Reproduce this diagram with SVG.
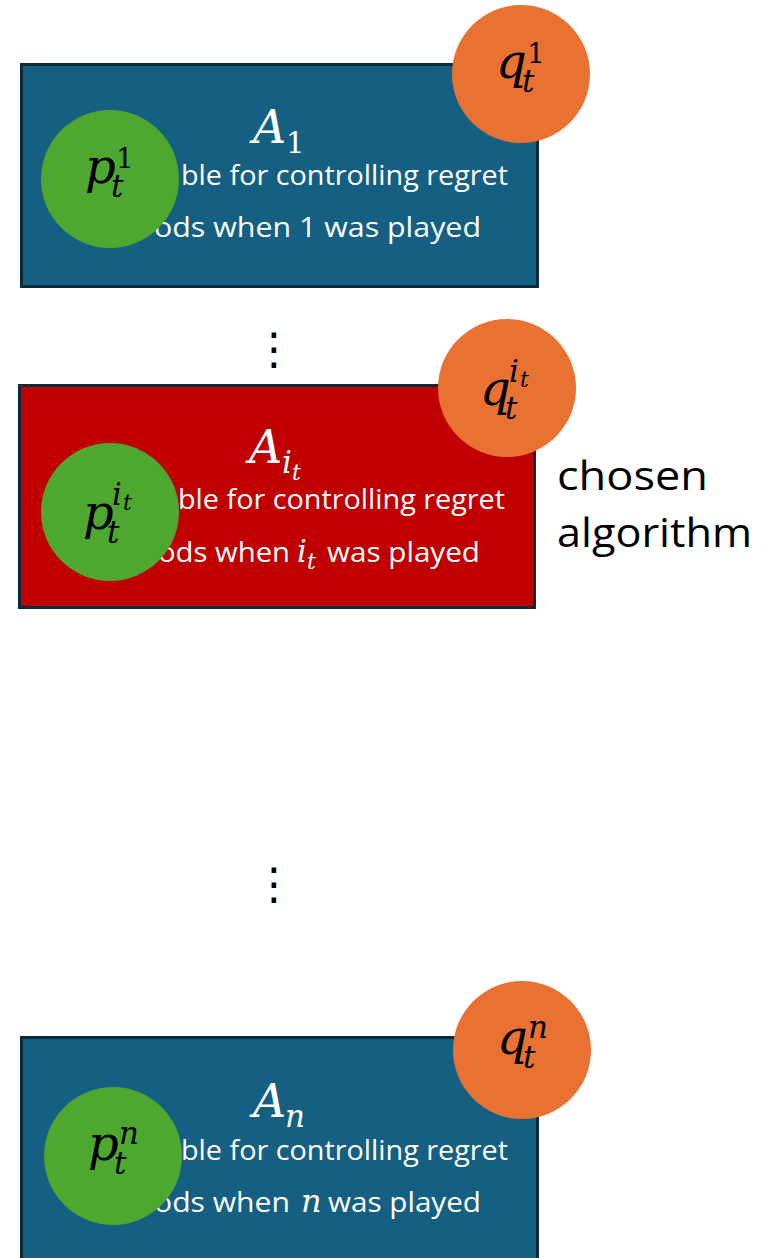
<svg xmlns="http://www.w3.org/2000/svg" width="774" height="1258" viewBox="0 0 774 1258">
<style>
.box{fill:#156082;stroke:#0c2a3a;stroke-width:3}
.red{fill:#c00000;stroke:#0c2a3a;stroke-width:3}
.q{fill:#e97132}
.p{fill:#4ea72e}
.m{font-family:"DejaVu Serif","Liberation Serif",serif;font-style:italic;fill:#000}
.up{font-style:normal}
.w{fill:#fff}
.t{font-family:"Open Sans","Liberation Sans",sans-serif;font-size:28px;fill:#fff}
.k{font-family:"Open Sans","Liberation Sans",sans-serif;font-size:41px;fill:#000}
.dots{font-family:"DejaVu Sans",sans-serif;font-size:44px;fill:#000}
</style>
<rect width="774" height="1258" fill="#fff"/>

<g id="node-A1">
<rect class="box" x="21.5" y="64.5" width="516" height="222"/>
<text class="m w" font-size="46"><tspan x="253" y="143">A</tspan><tspan class="up" x="286" y="153" font-size="29">1</tspan></text>
<text class="t" x="181" y="185" textLength="327" lengthAdjust="spacingAndGlyphs">ble for controlling regret</text>
<text class="t" x="154" y="237" textLength="327" lengthAdjust="spacingAndGlyphs">ods when 1 was played</text>
</g>
<g id="node-p1">
<circle class="p" cx="110" cy="179" r="69"/>
<text class="m" font-size="48"><tspan x="85" y="183">p</tspan><tspan x="111" y="197" font-size="31">t</tspan><tspan class="up" x="116" y="168" font-size="28">1</tspan></text>
</g>
<g id="node-q1">
<circle class="q" cx="521" cy="74" r="69"/>
<text class="m" font-size="48"><tspan x="496" y="78">q</tspan><tspan x="522" y="92" font-size="31">t</tspan><tspan class="up" x="527" y="63" font-size="28">1</tspan></text>
</g>

<text id="dots1" class="dots" x="274" y="364" text-anchor="middle">⋮</text>

<g id="node-Ait">
<rect class="red" x="19.5" y="385.5" width="515" height="222"/>
<text class="m w" font-size="46"><tspan x="249" y="463">A</tspan><tspan x="282" y="473" font-size="31">i</tspan><tspan x="292" y="480" font-size="22">t</tspan></text>
<text class="t" x="178" y="509" textLength="327" lengthAdjust="spacingAndGlyphs">ble for controlling regret</text>
<text class="t" x="158" y="562" textLength="132" lengthAdjust="spacingAndGlyphs">ods when</text>
<text class="m w" font-size="31"><tspan x="297" y="562">i</tspan><tspan x="307" y="569" font-size="22">t</tspan></text>
<text class="t" x="327" y="562" textLength="153" lengthAdjust="spacingAndGlyphs">was played</text>
</g>
<g id="node-pit">
<circle class="p" cx="110" cy="512" r="69"/>
<text class="m" font-size="48"><tspan x="83" y="529">p</tspan><tspan x="107" y="543" font-size="31">t</tspan><tspan x="112" y="505" font-size="31">i</tspan><tspan x="123" y="510" font-size="22">t</tspan></text>
</g>
<g id="node-qit">
<circle class="q" cx="507" cy="388" r="69"/>
<text class="m" font-size="48"><tspan x="480" y="405">q</tspan><tspan x="505" y="419" font-size="31">t</tspan><tspan x="509" y="382" font-size="31">i</tspan><tspan x="520" y="387" font-size="22">t</tspan></text>
</g>
<g id="label-chosen">
<text class="k" x="557" y="490" textLength="151" lengthAdjust="spacingAndGlyphs">chosen</text>
<text class="k" x="557" y="547" textLength="195" lengthAdjust="spacingAndGlyphs">algorithm</text>
</g>

<text id="dots2" class="dots" x="274" y="899" text-anchor="middle">⋮</text>

<g id="node-An">
<rect class="box" x="21.5" y="1037.5" width="516" height="240"/>
<text class="m w" font-size="46"><tspan x="253" y="1117">A</tspan><tspan x="285" y="1127" font-size="31">n</tspan></text>
<text class="t" x="181" y="1160" textLength="327" lengthAdjust="spacingAndGlyphs">ble for controlling regret</text>
<text class="t" x="154" y="1212" textLength="136" lengthAdjust="spacingAndGlyphs">ods when</text>
<text class="m w" x="301" y="1212" font-size="32">n</text>
<text class="t" x="328" y="1212" textLength="153" lengthAdjust="spacingAndGlyphs">was played</text>
</g>
<g id="node-pn">
<circle class="p" cx="113" cy="1156" r="69"/>
<text class="m" font-size="48"><tspan x="88" y="1160">p</tspan><tspan x="114" y="1174" font-size="31">t</tspan><tspan x="119" y="1144" font-size="31">n</tspan></text>
</g>
<g id="node-qn">
<circle class="q" cx="522" cy="1050" r="69"/>
<text class="m" font-size="48"><tspan x="497" y="1054">q</tspan><tspan x="523" y="1068" font-size="31">t</tspan><tspan x="528" y="1038" font-size="31">n</tspan></text>
</g>
<g id="connectors"/>
</svg>
